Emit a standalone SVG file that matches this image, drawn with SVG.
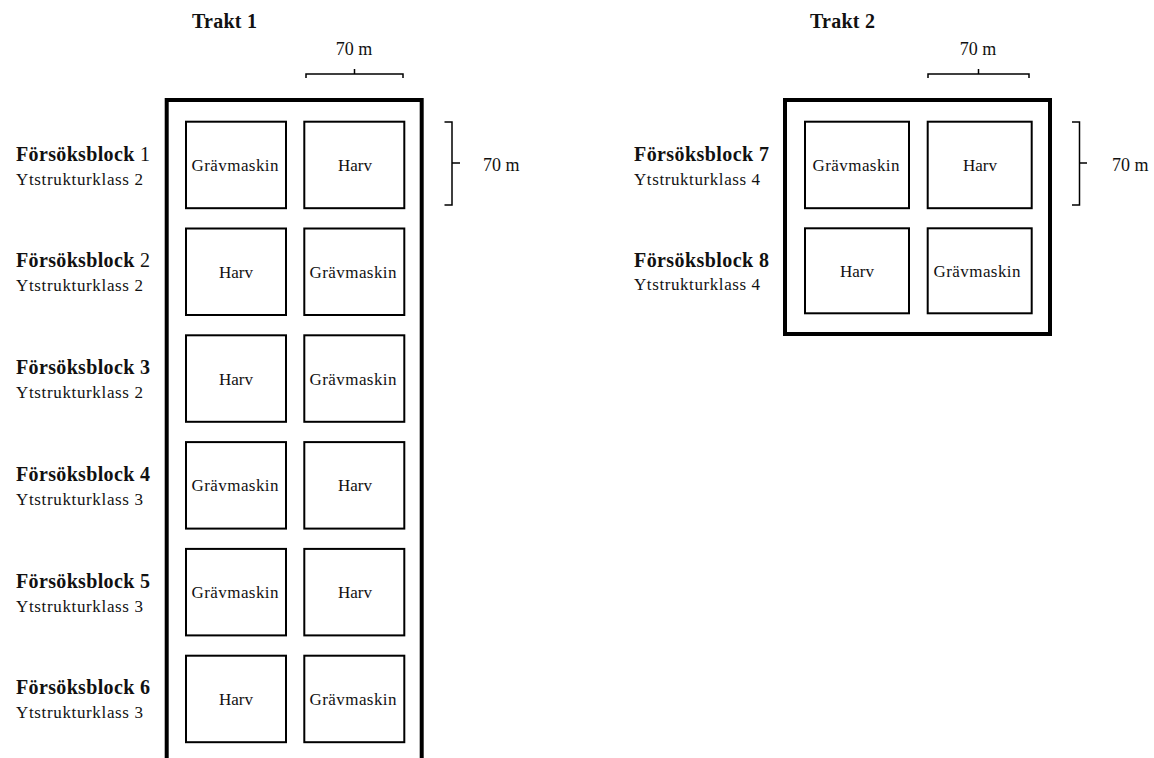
<svg xmlns="http://www.w3.org/2000/svg" width="1154" height="758" viewBox="0 0 1154 758">
<style>
  .outer { fill: none; stroke: #000; stroke-width: 4; }
  .plot { fill: #fff; stroke: #000; stroke-width: 2; }
  .plot-text { font-family: "Liberation Serif", "Times New Roman", serif; font-size: 17px; fill: #111; text-anchor: middle; }
  .title { font-family: "Liberation Serif", "Times New Roman", serif; font-size: 20px; font-weight: bold; fill: #111; }
  .blk { font-family: "Liberation Serif", "Times New Roman", serif; font-size: 20px; fill: #111; }
  .blk .b { font-weight: bold; }
  .cls { font-family: "Liberation Serif", "Times New Roman", serif; font-size: 17px; fill: #111; }
  .dim { font-family: "Liberation Serif", "Times New Roman", serif; font-size: 18px; fill: #111; }
  .brace { fill: none; stroke: #000; stroke-width: 1.5; }
</style>
<rect width="1154" height="758" fill="#fff"/>

<!-- Trakt 1 -->
<g id="trakt1">
  <text class="title" x="192" y="28" textLength="65" lengthAdjust="spacing">Trakt 1</text>
  <rect class="outer" x="166.7" y="100" width="255" height="700"/>
</g>

<g id="block1">
  <text class="blk" x="16" y="160.5" textLength="134" lengthAdjust="spacing"><tspan class="b">Försöksblock</tspan> 1</text>
  <text class="cls" x="16" y="184.5" textLength="127" lengthAdjust="spacing">Ytstrukturklass 2</text>
  <rect class="plot" x="186" y="121.7" width="100" height="86.5"/>
  <text class="plot-text" x="235" y="171" textLength="87" lengthAdjust="spacing">Grävmaskin</text>
  <rect class="plot" x="304.3" y="121.7" width="100" height="86.5"/>
  <text class="plot-text" x="355" y="171">Harv</text>
</g>

<g id="block2">
  <text class="blk" x="16" y="267.3" textLength="134" lengthAdjust="spacing"><tspan class="b">Försöksblock</tspan> 2</text>
  <text class="cls" x="16" y="291.3" textLength="127" lengthAdjust="spacing">Ytstrukturklass 2</text>
  <rect class="plot" x="186" y="228.5" width="100" height="86.5"/>
  <text class="plot-text" x="236" y="277.8">Harv</text>
  <rect class="plot" x="304.3" y="228.5" width="100" height="86.5"/>
  <text class="plot-text" x="353" y="277.8" textLength="87" lengthAdjust="spacing">Grävmaskin</text>
</g>

<g id="block3">
  <text class="blk b" x="16" y="374.1" textLength="134" lengthAdjust="spacing" font-weight="bold">Försöksblock 3</text>
  <text class="cls" x="16" y="398.1" textLength="127" lengthAdjust="spacing">Ytstrukturklass 2</text>
  <rect class="plot" x="186" y="335.3" width="100" height="86.5"/>
  <text class="plot-text" x="236" y="384.6">Harv</text>
  <rect class="plot" x="304.3" y="335.3" width="100" height="86.5"/>
  <text class="plot-text" x="353" y="384.6" textLength="87" lengthAdjust="spacing">Grävmaskin</text>
</g>

<g id="block4">
  <text class="blk" x="16" y="480.9" textLength="134" lengthAdjust="spacing" font-weight="bold">Försöksblock 4</text>
  <text class="cls" x="16" y="504.9" textLength="127" lengthAdjust="spacing">Ytstrukturklass 3</text>
  <rect class="plot" x="186" y="442.1" width="100" height="86.5"/>
  <text class="plot-text" x="235" y="491.4" textLength="87" lengthAdjust="spacing">Grävmaskin</text>
  <rect class="plot" x="304.3" y="442.1" width="100" height="86.5"/>
  <text class="plot-text" x="355" y="491.4">Harv</text>
</g>

<g id="block5">
  <text class="blk" x="16" y="587.7" textLength="134" lengthAdjust="spacing" font-weight="bold">Försöksblock 5</text>
  <text class="cls" x="16" y="611.7" textLength="127" lengthAdjust="spacing">Ytstrukturklass 3</text>
  <rect class="plot" x="186" y="548.9" width="100" height="86.5"/>
  <text class="plot-text" x="235" y="598.2" textLength="87" lengthAdjust="spacing">Grävmaskin</text>
  <rect class="plot" x="304.3" y="548.9" width="100" height="86.5"/>
  <text class="plot-text" x="355" y="598.2">Harv</text>
</g>

<g id="block6">
  <text class="blk" x="16" y="694" textLength="134" lengthAdjust="spacing" font-weight="bold">Försöksblock 6</text>
  <text class="cls" x="16" y="717.5" textLength="127" lengthAdjust="spacing">Ytstrukturklass 3</text>
  <rect class="plot" x="186" y="655.7" width="100" height="86.5"/>
  <text class="plot-text" x="236" y="705">Harv</text>
  <rect class="plot" x="304.3" y="655.7" width="100" height="86.5"/>
  <text class="plot-text" x="353" y="705" textLength="87" lengthAdjust="spacing">Grävmaskin</text>
</g>

<!-- Trakt 2 -->
<g id="trakt2">
  <text class="title" x="810" y="28" textLength="65" lengthAdjust="spacing">Trakt 2</text>
  <rect class="outer" x="785" y="100" width="265" height="234"/>
</g>

<g id="block7">
  <text class="blk" x="634" y="160.7" textLength="135" lengthAdjust="spacing" font-weight="bold">Försöksblock 7</text>
  <text class="cls" x="634" y="185" textLength="126" lengthAdjust="spacing">Ytstrukturklass 4</text>
  <rect class="plot" x="805" y="121.7" width="104" height="86.5"/>
  <text class="plot-text" x="856" y="171" textLength="87" lengthAdjust="spacing">Grävmaskin</text>
  <rect class="plot" x="927.7" y="121.7" width="104" height="86.5"/>
  <text class="plot-text" x="980" y="171">Harv</text>
</g>

<g id="block8">
  <text class="blk" x="634" y="266.5" textLength="135" lengthAdjust="spacing" font-weight="bold">Försöksblock 8</text>
  <text class="cls" x="634" y="290" textLength="126" lengthAdjust="spacing">Ytstrukturklass 4</text>
  <rect class="plot" x="805" y="228.3" width="104" height="85"/>
  <text class="plot-text" x="857" y="276.8">Harv</text>
  <rect class="plot" x="927.7" y="228.3" width="104" height="85"/>
  <text class="plot-text" x="977" y="276.8" textLength="87" lengthAdjust="spacing">Grävmaskin</text>
</g>

<!-- Dimension braces -->
<g id="dimensions">
  <path class="brace" d="M306,78 V74 H403 V78 M354.5,74 V69"/>
  <text class="dim" x="354" y="55" text-anchor="middle">70 m</text>
  <path class="brace" d="M444.5,122 H452 V205 H444.5 M452,163 H460"/>
  <text class="dim" x="483" y="170.7">70 m</text>

  <path class="brace" d="M928,78 V74 H1029 V78 M978.5,74 V69"/>
  <text class="dim" x="978" y="55" text-anchor="middle">70 m</text>
  <path class="brace" d="M1072,122 H1079.5 V205 H1072 M1079.5,163 H1087"/>
  <text class="dim" x="1112" y="170.7">70 m</text>
</g>
</svg>
